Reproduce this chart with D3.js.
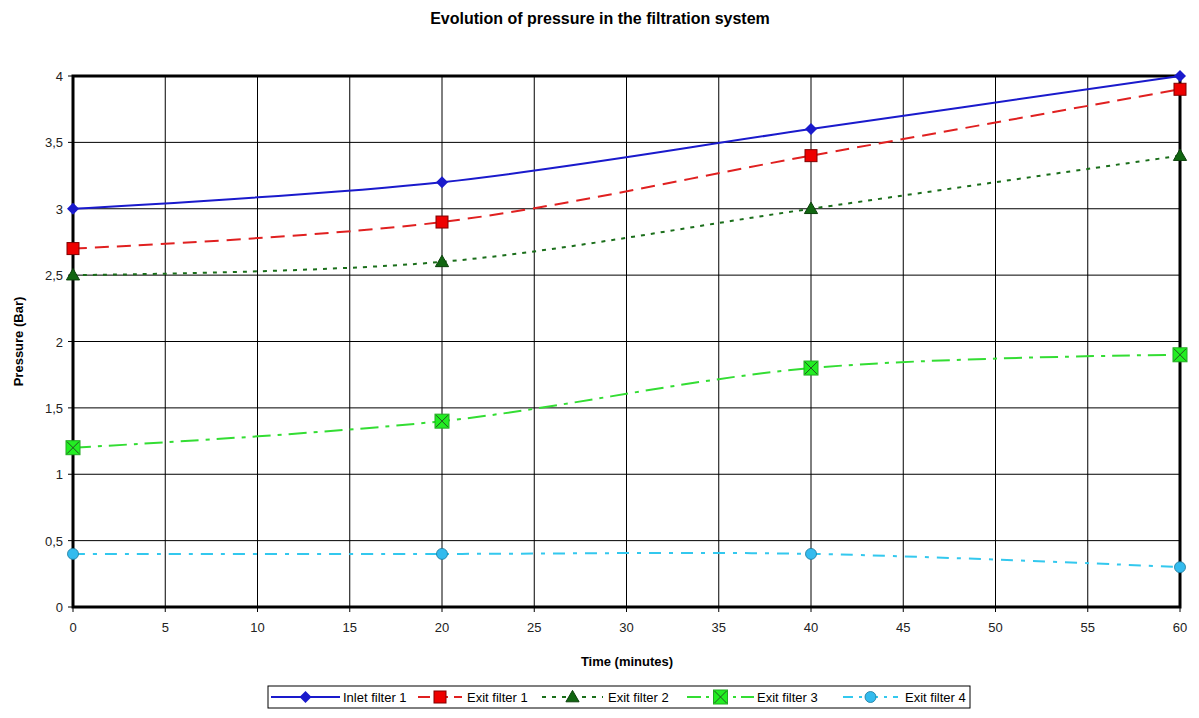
<!DOCTYPE html>
<html>
<head>
<meta charset="utf-8">
<script src="https://cdn.jsdelivr.net/npm/d3@7"></script>
<style>
  body { margin: 0; background: #fff; }
  text { font-family: "Liberation Sans", Arial, sans-serif; }
</style>
</head>
<body>
<svg id="chart"></svg>
<script>
// data
var times = [0, 20, 40, 60];
var inlet1 = [3.0, 3.2, 3.6, 4.0];
var exit1  = [2.7, 2.9, 3.4, 3.9];
var exit2  = [2.5, 2.6, 3.0, 3.4];
var exit3  = [1.2, 1.4, 1.8, 1.9];
var exit4  = [0.4, 0.4, 0.4, 0.3];
var seriesNames = ["Inlet filter 1", "Exit filter 1", "Exit filter 2", "Exit filter 3", "Exit filter 4"];
var xTicks = d3.range(0, 61, 5);
var yTicks = [0, 0.5, 1, 1.5, 2, 2.5, 3, 3.5, 4];

var W = 1199, H = 718;
var pLeft = 73, pRight = 1180, pTop = 76, pBottom = 607;

var svg = d3.select("#chart").attr("width", W).attr("height", H);

var x = d3.scaleLinear().domain([0, 60]).range([pLeft, pRight]);
var y = d3.scaleLinear().domain([0, 4]).range([pBottom, pTop]);

// grid
svg.append("g").selectAll("line").data(xTicks).join("line")
  .attr("x1", d => x(d)).attr("x2", d => x(d))
  .attr("y1", pTop).attr("y2", pBottom + 5)
  .attr("stroke", "#000").attr("stroke-width", 1);
svg.append("g").selectAll("line").data(yTicks).join("line")
  .attr("x1", pLeft - 5).attr("x2", pRight)
  .attr("y1", d => y(d)).attr("y2", d => y(d))
  .attr("stroke", "#000").attr("stroke-width", 1);

// frame
svg.append("rect").attr("x", pLeft).attr("y", pTop)
  .attr("width", pRight - pLeft).attr("height", pBottom - pTop)
  .attr("fill", "none").attr("stroke", "#000").attr("stroke-width", 3);

// tick labels
var fmt = d => String(d).replace(".", ",");
svg.append("g").selectAll("text").data(yTicks).join("text")
  .attr("x", pLeft - 10).attr("y", d => y(d) + 5)
  .attr("text-anchor", "end").attr("font-size", 13).attr("fill", "#222")
  .text(fmt);
svg.append("g").selectAll("text").data(xTicks).join("text")
  .attr("x", d => x(d)).attr("y", pBottom + 25)
  .attr("text-anchor", "middle").attr("font-size", 13).attr("fill", "#222")
  .text(d => d);

// titles
svg.append("text").attr("x", 600).attr("y", 24).attr("text-anchor", "middle")
  .attr("font-size", 16).attr("font-weight", "bold").text("Evolution of pressure in the filtration system");
svg.append("text").attr("x", 627).attr("y", 666).attr("text-anchor", "middle")
  .attr("font-size", 13).attr("font-weight", "bold").text("Time (minutes)");
svg.append("text").attr("transform", "translate(23," + ((pTop + pBottom) / 2) + ") rotate(-90)")
  .attr("text-anchor", "middle").attr("font-size", 13).attr("font-weight", "bold").text("Pressure (Bar)");

var styles = [
  {vals: inlet1, line: "#1a1acc", dash: null,          marker: "diamond",  fill: "#1a1acc", stroke: "#1a1acc"},
  {vals: exit1,  line: "#e02020", dash: "14,8",        marker: "square",   fill: "#ee0000", stroke: "#800000"},
  {vals: exit2,  line: "#1a6e1a", dash: "4,6",         marker: "triangle", fill: "#116611", stroke: "#0a400a"},
  {vals: exit3,  line: "#33dd33", dash: "18,7,4,7",    marker: "xsquare",  fill: "#22ee22", stroke: "#22aa22"},
  {vals: exit4,  line: "#33c8ee", dash: "12,8,4,8",    marker: "circle",   fill: "#33bbee", stroke: "#1a7799"}
];

var lineGen = d3.line().x(d => x(d.t)).y(d => y(d.v)).curve(d3.curveCatmullRom.alpha(0.5));

function drawMarker(g, kind, cx, cy, st) {
  if (kind === "diamond") {
    g.append("path").attr("d", "M" + cx + "," + (cy - 6) + "L" + (cx + 6) + "," + cy +
      "L" + cx + "," + (cy + 6) + "L" + (cx - 6) + "," + cy + "Z").attr("fill", st.fill);
  } else if (kind === "square") {
    g.append("rect").attr("x", cx - 6).attr("y", cy - 6).attr("width", 12).attr("height", 12)
      .attr("fill", st.fill).attr("stroke", st.stroke).attr("stroke-width", 1);
  } else if (kind === "triangle") {
    g.append("path").attr("d", d3.symbol(d3.symbolTriangle, 75)())
      .attr("transform", "translate(" + cx + "," + (cy + 1) + ")").attr("fill", st.fill).attr("stroke", st.stroke);
  } else if (kind === "xsquare") {
    g.append("rect").attr("x", cx - 7).attr("y", cy - 7).attr("width", 14).attr("height", 14)
      .attr("fill", st.fill).attr("stroke", st.stroke);
    g.append("path").attr("d", "M" + (cx - 6) + "," + (cy - 6) + "L" + (cx + 6) + "," + (cy + 6) +
      "M" + (cx + 6) + "," + (cy - 6) + "L" + (cx - 6) + "," + (cy + 6))
      .attr("stroke", "#225522").attr("stroke-width", 1);
  } else {
    g.append("circle").attr("cx", cx).attr("cy", cy).attr("r", 5.5)
      .attr("fill", st.fill).attr("stroke", st.stroke).attr("stroke-width", 0.8);
  }
}

styles.forEach(function(s) {
  var pts = times.map((t, i) => ({t: t, v: s.vals[i]}));
  svg.append("path").datum(pts).attr("d", lineGen)
    .attr("fill", "none").attr("stroke", s.line).attr("stroke-width", 2)
    .attr("stroke-dasharray", s.dash);
  var g = svg.append("g");
  pts.forEach(p => drawMarker(g, s.marker, x(p.t), y(p.v), s));
});

// legend
var lg = svg.append("g");
lg.append("rect").attr("x", 268).attr("y", 686).attr("width", 702).attr("height", 22)
  .attr("fill", "#fff").attr("stroke", "#000").attr("stroke-width", 1);
var legLine = [[271, 340], [418, 462], [542, 603], [687, 754], [843, 898]];
var legText = [343, 467, 608, 757, 905];
var legDash = [null, "12,6", "4,6", "14,5,3,5", "10,6,3,6"];
styles.forEach(function(s, i) {
  var ly = 697;
  lg.append("line").attr("x1", legLine[i][0]).attr("x2", legLine[i][1]).attr("y1", ly).attr("y2", ly)
    .attr("stroke", s.line).attr("stroke-width", 2).attr("stroke-dasharray", legDash[i]);
  drawMarker(lg, s.marker, (legLine[i][0] + legLine[i][1]) / 2, ly, s);
  lg.append("text").attr("x", legText[i]).attr("y", ly + 5)
    .attr("font-size", 13).attr("fill", "#000").text(seriesNames[i]);
});
</script>
</body>
</html>
